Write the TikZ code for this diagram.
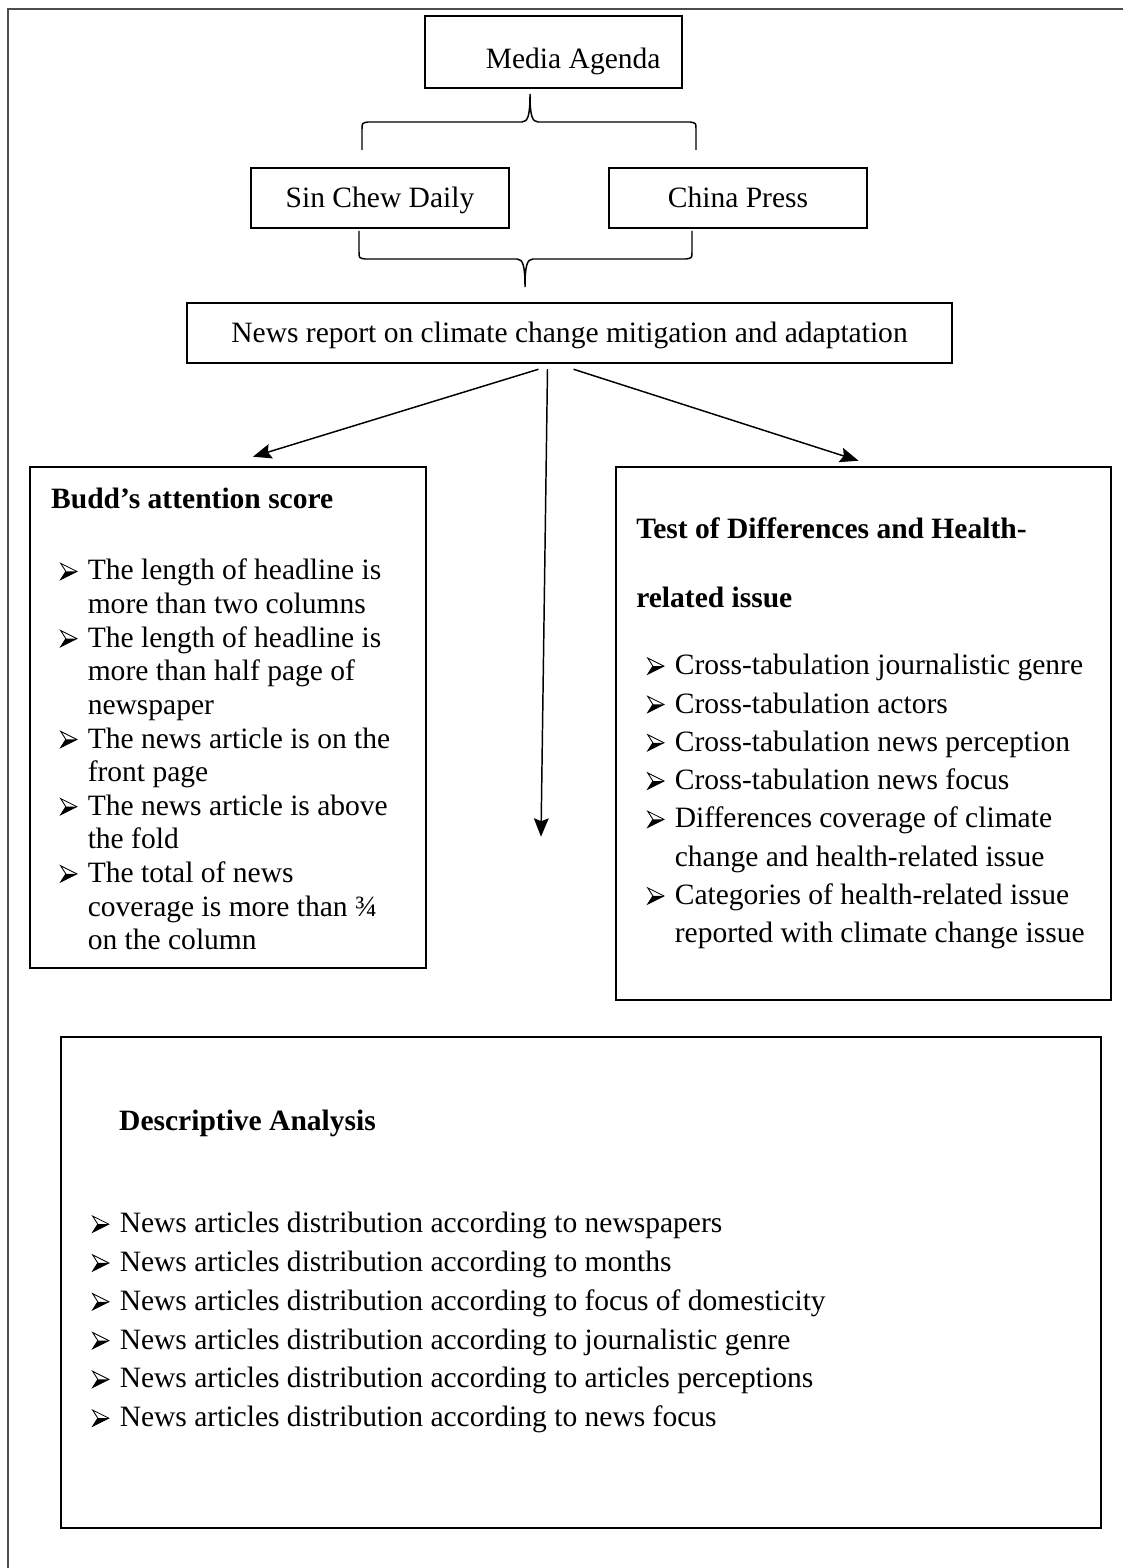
\documentclass[tikz,border=0pt]{standalone}
\usepackage{fontspec}
\setmainfont{Liberation Serif}
\usetikzlibrary{arrows.meta,positioning}
\newsavebox{\bulbox}
\newcommand{\bul}{\makebox[11.2pt][l]{\usebox{\bulbox}}}
\newcommand{\cont}{\hspace*{11.2pt}}

\begin{document}
\sbox{\bulbox}{\begin{pgfpicture}
    \pgfsetlinewidth{0.35pt}\pgfsetmiterjoin
    \pgfpathmoveto{\pgfpoint{0pt}{6.6pt}}\pgfpathlineto{\pgfpoint{6.6pt}{3.3pt}}%
    \pgfpathlineto{\pgfpoint{0pt}{0pt}}\pgfpathlineto{\pgfpoint{2.1pt}{3.3pt}}\pgfpathclose
    \pgfusepath{stroke}
    \pgfpathmoveto{\pgfpoint{2.1pt}{3.3pt}}\pgfpathlineto{\pgfpoint{6.6pt}{3.3pt}}%
    \pgfpathlineto{\pgfpoint{0pt}{0pt}}\pgfpathclose
    \pgfusepath{fill}
  \end{pgfpicture}}%
\begin{tikzpicture}[x=0.4065pt, y=-0.4065pt, >={Stealth[length=7.5pt,width=6pt,inset=1.2pt]}]
        \tikzstyle{box}=[draw, line width=1pt, inner sep=0pt, text height=7.5pt, text depth=0pt, font=\fontsize{12}{14}\selectfont]
        \tikzstyle{head}=[inner sep=0pt, anchor=base west, font=\fontsize{12}{14}\selectfont\bfseries]
        \tikzstyle{list}=[inner sep=0pt, anchor=north west, align=left]
        \tikzstyle{brace}=[line width=0.6pt]
        \tikzstyle{link}=[->, line width=0.6pt]
        \useasboundingbox (0,0) rectangle (1123,1568);
        \draw[line width=0.8pt, black!70] (8,1568) -- (8,9) -- (1123,9);

        % sources
        \node[box, text height=13.5pt, minimum width=104.5pt, minimum height=29.3pt] (media) at (553.5,52) {\hspace*{16pt}Media Agenda};
        \node[box, minimum width=104.9pt, minimum height=24.4pt] (sinchew) at (380,198) {Sin Chew Daily};
        \node[box, minimum width=104.9pt, minimum height=24.4pt] (china) at (738,198) {China Press};
        \node[box, minimum width=311pt, minimum height=24.4pt] (news) at (569.5,333) {News report on climate change mitigation and adaptation};

        \draw[brace] (362,150) -- (362,129) .. controls (362,123) .. (368,122) -- (522,122)
            .. controls (528,122) and (530,115) .. (530,94) .. controls (530,115) and (532,122) .. (538,122)
            -- (690,122) .. controls (696,123) .. (696,129) -- (696,150);
        \draw[brace] (359,231) -- (359,252) .. controls (359,258) .. (365,259) -- (517,259)
            .. controls (523,259) and (525,266) .. (525,287) .. controls (525,266) and (527,259) .. (533,259)
            -- (686,259) .. controls (692,258) .. (692,252) -- (692,231);

        % analyses
        \node[box, minimum width=161pt, minimum height=203.7pt] (budd) at (228,717.5) {};
        \node[box, minimum width=201.2pt, minimum height=216.7pt] (test) at (863.5,733.5) {};
        \node[box, minimum width=422.8pt, minimum height=199.6pt] (desc) at (581,1282.5) {};

        \node[head] (buddhead) at ([shift={(22,43)}]budd.north west) {Budd’s attention score};
        \node[list, font=\fontsize{12}{13.66}\selectfont] (buddlist) at ([shift={(31,93)}]budd.north west)
            {\bul The length of headline is\\ \cont more than two columns\\
             \bul The length of headline is\\ \cont more than half page of\\ \cont newspaper\\
             \bul The news article is on the\\ \cont front page\\
             \bul The news article is above\\ \cont the fold\\
             \bul The total of news\\ \cont coverage is more than ¾\\ \cont on the column};

        \node[head] (testhead) at ([shift={(21,73)}]test.north west) {Test of Differences and Health-};
        \node[head] (testhead2) at ([shift={(21,142)}]test.north west) {related issue};
        \node[list, font=\fontsize{12}{15.57}\selectfont] (testlist) at ([shift={(32,188)}]test.north west)
            {\bul Cross-tabulation journalistic genre\\ \bul Cross-tabulation actors\\
             \bul Cross-tabulation news perception\\ \bul Cross-tabulation news focus\\
             \bul Differences coverage of climate\\ \cont change and health-related issue\\
             \bul Categories of health-related issue\\ \cont reported with climate change issue};

        \node[head] (deschead) at ([shift={(59,95)}]desc.north west) {Descriptive Analysis};
        \node[list, font=\fontsize{12}{15.77}\selectfont] (desclist) at ([shift={(32,176)}]desc.north west)
            {\bul News articles distribution according to newspapers\\
             \bul News articles distribution according to months\\
             \bul News articles distribution according to focus of domesticity\\
             \bul News articles distribution according to journalistic genre\\
             \bul News articles distribution according to articles perceptions\\
             \bul News articles distribution according to news focus};

        % links
        \coordinate (s1) at ([shift={(-31,5)}]news.south);
        \coordinate (s2) at ([shift={(-22,5)}]news.south);
        \coordinate (s3) at ([shift={(4,5)}]news.south);
        \coordinate (e1) at ([shift={(25,-9)}]budd.north);
        \coordinate (e3) at ([shift={(-5,-5)}]test.north);
        \coordinate (e2) at ([shift={(-40,-199)}]desc.north);
        \draw[link] (s1) -- (e1);
        \draw[link] (s2) -- (e2);
        \draw[link] (s3) -- (e3);
    \end{tikzpicture}
\end{document}
